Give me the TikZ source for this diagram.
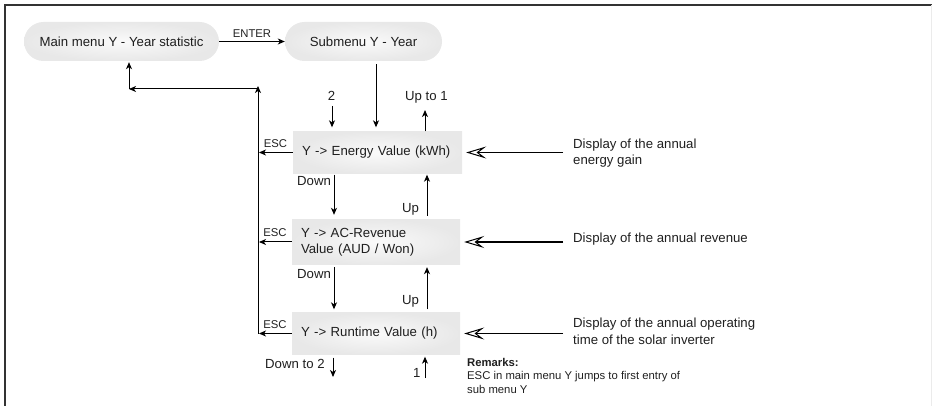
\documentclass[tikz,border=0pt]{standalone}
\usepackage{fontspec}
\setmainfont{Liberation Sans}
\usetikzlibrary{arrows.meta}
\begin{document}
\begin{tikzpicture}[x=1pt,y=-1pt,
  txt/.style={font=\fontsize{13.2}{16.5}\selectfont, text=black!88, inner sep=0pt},
  smalltxt/.style={font=\fontsize{11.3}{13.2}\selectfont, text=black!88, inner sep=0pt},
  pill/.style={txt, rounded corners=19.5pt, minimum height=39pt, inner color=white!98!black, outer color=black!9},
  menubox/.style={txt, minimum height=42pt, inner sep=9pt, align=left, inner color=white!98!black, outer color=black!9},
  arr/.style={line width=1pt, -{Stealth[length=7pt,width=6pt,inset=2pt]}},
  hint/.style={line width=1.7pt, -{Stealth[open,length=20pt,width=12pt,inset=8pt,line width=1pt]}},
  esclab/.style={smalltxt, anchor=base, yshift=5pt}]
\useasboundingbox (0,0) rectangle (932,406);

% frame
\draw[line width=1.5pt, black!80] (5,406) -- (5,5) -- (932,5);
\draw[line width=0.6pt, black!8] (931,5) -- (931,406);

% menu entries
\node[pill, minimum width=195pt] (main) at (121.5,41.5) {Main menu Y - Year statistic};
\node[pill, minimum width=157pt] (sub) at (363.5,41.5) {Submenu Y - Year};
\node[menubox, minimum width=169pt, text width=151pt] (e) at (377.5,152.5) {Y -> Energy Value (kWh)};
\node[menubox, minimum width=168pt, text width=150pt] (r) at (376,242) {Y -> AC-Revenue\\[-0.5pt]Value (AUD / Won)};
\node[menubox, minimum width=168pt, text width=150pt] (t) at (376,333.5) {Y -> Runtime Value (h)};

% enter into the submenu
\draw[arr] (main.east) -- node[smalltxt, anchor=base, yshift=4pt] {ENTER} (sub.west);
\draw[arr, shorten <=3pt, shorten >=4pt] (sub.south -| 376,0) -- (e.north -| 376,0);

% wrap-around entry and exit
\coordinate (in2) at (332,106);
\node[txt, anchor=base] at (331.5,101) {2};
\draw[arr, shorten >=4pt] (in2) -- (e.north -| 332,0);
\coordinate (out1) at (425,110);
\node[txt, anchor=base west] at (405,101) {Up to 1};
\draw[arr] (e.north -| 425,0) -- (out1);

% down / up between entries
\node[txt, anchor=base west] at (297,186) {Down};
\draw[arr, shorten <=1pt, shorten >=4pt] (e.south -| 334,0) -- (r.north -| 334,0);
\node[txt, anchor=base west] at (402,213) {Up};
\draw[arr, shorten <=3pt, shorten >=1pt] (r.north -| 427,0) -- (e.south -| 427,0);

\node[txt, anchor=base west] at (297,279) {Down};
\draw[arr, shorten <=2pt, shorten >=3pt] (r.south -| 334,0) -- (t.north -| 334,0);
\node[txt, anchor=base west] at (402,305) {Up};
\draw[arr, shorten <=3pt, shorten >=2pt] (t.north -| 427,0) -- (r.south -| 427,0);

\coordinate (out2) at (333,377);
\node[txt, anchor=base west] at (265,368) {Down to 2};
\draw[arr, shorten <=3pt] (t.south -| 333,0) -- (out2);
\coordinate (in1) at (425,378);
\node[txt, anchor=base west] at (413,377) {1};
\draw[arr, shorten >=2pt] (in1) -- (t.south -| 425,0);

% ESC back to the main menu
\coordinate (bus) at (258,89);
\coordinate (mainup) at (129,89);
\draw[arr, shorten >=1pt] (e.west) -- node[esclab] {ESC} (e.west -| bus);
\draw[arr, shorten >=1pt] (r.west) -- node[esclab] {ESC} (r.west -| bus);
\draw[arr, shorten >=1pt] (t.west) -- node[esclab] {ESC} (t.west -| bus);
\draw[arr, shorten >=-3pt] (t.west -| bus) -- (bus);
\draw[arr] (bus) -- (mainup);
\draw[arr, shorten >=1pt] (mainup) -- (main.south -| mainup);

% descriptions (multi-line nodes sit on the baseline of their last line)
\node[txt, anchor=base west, align=left] (de) at (573,165) {Display of the annual\\[0.3pt]energy gain};
\node[txt, anchor=base west] (dr) at (573,243) {Display of the annual revenue};
\node[txt, anchor=base west, align=left] (dt) at (573,344) {Display of the annual operating\\[0.3pt]time of the solar inverter};
\draw[hint, shorten <=10pt, shorten >=4pt] (e.east -| de.west) -- (e.east);
\draw[hint, shorten <=10pt, shorten >=4pt] (r.east -| dr.west) -- (r.east);
\draw[hint, shorten <=10pt, shorten >=4pt] (t.east -| dt.west) -- (t.east);

% remarks
\node[smalltxt, anchor=base west, align=left] (rem) at (467,393) {\textbf{Remarks:}\\ESC in main menu Y jumps to first entry of\\sub menu Y};
\end{tikzpicture}
\end{document}
